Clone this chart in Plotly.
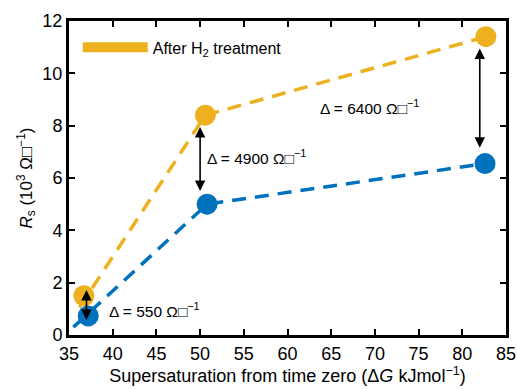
import plotly.graph_objects as go

# Data
x_after = [36.7, 50.6, 82.7]
y_after = [1.5, 8.4, 11.4]
x_before = [37.2, 50.8, 82.6]
y_before = [0.73, 5.0, 6.55]
# dashed guide lines (start slightly left of the first point, as drawn)
line_after_x = [36.2, 50.6, 82.7]
line_after_y = [1.05, 8.4, 11.4]
line_before_x = [35.5, 50.8, 82.6]
line_before_y = [0.3, 5.0, 6.55]

deltas = ["550", "4900", "6400"]
arrow_x = [37.0, 50.0, 82.0]
arrow_top = [1.72, 7.95, 10.95]
arrow_bot = [0.52, 5.45, 7.1]
label_x = [39.3, 50.6, 63.5]
label_y = [0.95, 6.8, 8.7]

ORANGE = "#EDB120"
BLUE = "#0072BD"
FONT = "Liberation Sans, Arial, sans-serif"

fig = go.Figure()
fig.add_trace(go.Scatter(x=line_after_x, y=line_after_y, mode="lines",
                         line=dict(color=ORANGE, width=3.5, dash="14px,9px"),
                         showlegend=False, hoverinfo="skip"))
fig.add_trace(go.Scatter(x=line_before_x, y=line_before_y, mode="lines",
                         line=dict(color=BLUE, width=3.5, dash="14px,9px"),
                         showlegend=False, hoverinfo="skip"))
fig.add_trace(go.Scatter(x=x_after, y=y_after, mode="markers",
                         marker=dict(color=ORANGE, size=21), showlegend=False))
fig.add_trace(go.Scatter(x=x_before, y=y_before, mode="markers",
                         marker=dict(color=BLUE, size=21), showlegend=False))
# legend entry
fig.add_trace(go.Scatter(x=[None], y=[None], mode="lines",
                         line=dict(color=ORANGE, width=15),
                         name="After H<sub>2</sub> treatment", showlegend=True))

annotations = []
for ax_, t, b, d, lx, ly in zip(arrow_x, arrow_top, arrow_bot, deltas, label_x, label_y):
    annotations.append(dict(x=ax_, y=t, ax=ax_, ay=b, xref="x", yref="y",
                            axref="x", ayref="y", showarrow=True,
                            arrowhead=2, startarrowhead=2, arrowside="end+start",
                            arrowsize=1.3, arrowwidth=1.6, arrowcolor="black", text=""))
    annotations.append(dict(x=lx, y=ly, xref="x", yref="y", showarrow=False,
                            xanchor="left", yanchor="middle",
                            text="Δ = " + d + " Ω□<sup>−1</sup>",
                            font=dict(family=FONT, size=15.5, color="black")))

fig.update_layout(
    width=517, height=389,
    margin=dict(l=69, r=11, t=21, b=54, autoexpand=False),
    plot_bgcolor="white", paper_bgcolor="white",
    font=dict(family=FONT, size=18, color="black"),
    annotations=annotations,
    legend=dict(x=0.02, y=0.97, xanchor="left", yanchor="top",
                bgcolor="rgba(0,0,0,0)", itemwidth=65,
                font=dict(family=FONT, size=16, color="black")),
    xaxis=dict(range=[35, 85], tickvals=list(range(35, 90, 5)),
               showgrid=False, zeroline=False, automargin=False,
               showline=True, linecolor="black", linewidth=3, mirror="ticks",
               ticks="inside", ticklen=6, tickwidth=2, tickcolor="black",
               tickfont=dict(size=18),
               title=dict(text="Supersaturation from time zero (Δ<i>G</i> kJmol<sup>−1</sup>)",
                          font=dict(size=18), standoff=4)),
    yaxis=dict(range=[0, 12], tickvals=list(range(0, 13, 2)),
               showgrid=False, zeroline=False, automargin=False,
               showline=True, linecolor="black", linewidth=3, mirror="ticks",
               ticks="inside", ticklen=6, tickwidth=2, tickcolor="black",
               tickfont=dict(size=18),
               title=dict(text="<i>R</i><sub>s</sub> (10<sup>3</sup> Ω□<sup>−1</sup>)",
                          font=dict(size=17), standoff=6)),
)

fig.write_html("out.html", config={"displayModeBar": False},
               post_script="document.body.style.margin='0';document.body.style.overflow='hidden';")
